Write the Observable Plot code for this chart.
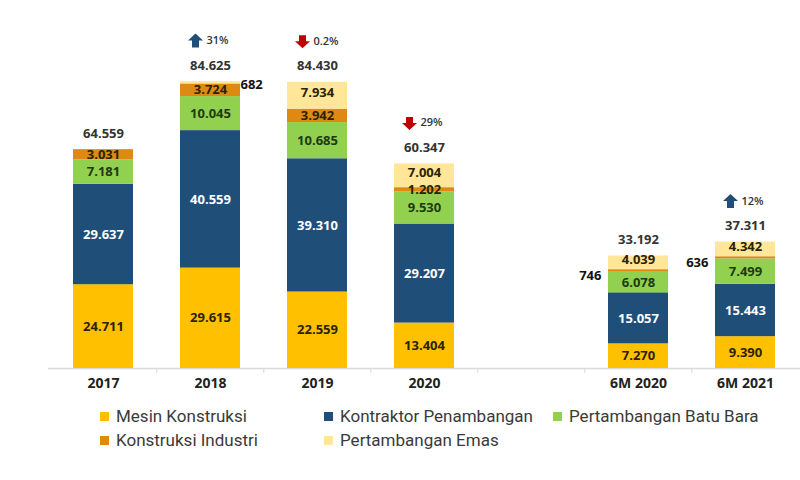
<!DOCTYPE html>
<html><head><meta charset="utf-8">
<script src="https://cdn.jsdelivr.net/npm/d3@7"></script>
<script src="https://cdn.jsdelivr.net/npm/@observablehq/plot@0.6"></script>
<style>
body{margin:0;background:#fff;font-family:"Open Sans",sans-serif;}
#chart{height:400px;}
#legend{display:grid;grid-template-columns:224px 229px auto;padding-left:100px;padding-top:4px;font-family:Roboto,sans-serif;font-size:17px;color:#3a3a3a;}
.item{display:flex;align-items:center;height:24px;white-space:nowrap;}
.sw{width:9px;height:9px;margin-right:7px;flex:none;}
</style></head><body>
<div id="chart"></div><div id="legend"></div>
<script>
const categories = ["2017","2018","2019","2020"," ","6M 2020","6M 2021"];
const seriesNames = ["Mesin Konstruksi","Kontraktor Penambangan","Pertambangan Batu Bara","Konstruksi Industri","Pertambangan Emas"];
const seriesColors = ["#FFC000","#1F4E79","#92D050","#DE8A12","#FFE699"];
const mesinKonstruksi = [24711, 29615, 22559, 13404, null, 7270, 9390];
const kontraktorPenambangan = [29637, 40559, 39310, 29207, null, 15057, 15443];
const pertambanganBatuBara = [7181, 10045, 10685, 9530, null, 6078, 7499];
const konstruksiIndustri = [3031, 3724, 3942, 1202, null, 746, 636];
const pertambanganEmas = [0, 682, 7934, 7004, null, 4039, 4342];
const totals = [64559, 84625, 84430, 60347, null, 33192, 37311];
const changeCategories = ["2018","2019","2020","6M 2021"];
const changeLabels = ["31%","0.2%","29%","12%"];
const changeDirections = ["up","down","down","up"];

const seriesValues = [mesinKonstruksi, kontraktorPenambangan, pertambanganBatuBara, konstruksiIndustri, pertambanganEmas];
const fmt = d3.formatLocale({decimal:",", thousands:".", grouping:[3], currency:["",""]}).format(",d");

const rows = [];
seriesNames.forEach((s, i) => {
  categories.forEach((c, j) => {
    const v = seriesValues[i][j];
    if (v != null) rows.push({cat: c, series: s, value: v});
  });
});
const totalRows = categories.map((c, j) => ({cat: c, total: totals[j]})).filter(d => d.total != null);
const changeRows = changeCategories.map((c, i) => ({cat: c, label: changeLabels[i], dir: changeDirections[i], total: totals[categories.indexOf(c)]}));

const upArrow = {draw(ctx){ ctx.moveTo(0,-7); ctx.lineTo(7.5,0); ctx.lineTo(3.5,0); ctx.lineTo(3.5,7); ctx.lineTo(-3.5,7); ctx.lineTo(-3.5,0); ctx.lineTo(-7.5,0); ctx.closePath(); }};
const downArrow = {draw(ctx){ ctx.moveTo(0,7); ctx.lineTo(7.5,0); ctx.lineTo(3.5,0); ctx.lineTo(3.5,-6); ctx.lineTo(-3.5,-6); ctx.lineTo(-3.5,0); ctx.lineTo(-7.5,0); ctx.closePath(); }};

const big = d => d.value >= 1000;
const labelText = pred => d => (big(d) && pred(d)) ? fmt(d.value) : null;
const st = o => Plot.stackY({x: "cat", y: "value", z: "series", order: seriesNames, ...o});
const S = seriesNames;

const chart = Plot.plot({
  width: 800, height: 400,
  marginTop: 29, marginBottom: 32, marginLeft: 48, marginRight: 0,
  style: {fontFamily: "Open Sans", fontSize: "13px", background: "#fff"},
  x: {domain: categories, paddingInner: 0.44, paddingOuter: 0.22, axis: null},
  y: {domain: [0, 100000], axis: null},
  color: {domain: seriesNames, range: seriesColors},
  marks: [
    Plot.ruleY([0], {stroke: "#d9d9d9", strokeWidth: 1.5}),
    Plot.ruleX(categories.slice(1), {x: d => d, y1: 0, y2: -1500, dx: -53.7, stroke: "#d9d9d9"}),
    Plot.barY(rows, st({fill: "series"})),
    Plot.text(rows, st({text: labelText(d => d.series === S[1]), fill: "#ffffff", fontWeight: "bold"})),
    Plot.text(rows, st({text: labelText(d => d.series === S[2]), fill: "#1f3a12", fontWeight: "bold"})),
    Plot.text(rows, st({text: labelText(d => d.series === S[0] || d.series === S[3]), fill: "#2b2200", fontWeight: "bold"})),
    Plot.text(rows, st({text: labelText(d => d.series === S[4]), fill: "#2b2200", fontWeight: "bold", dy: -3})),
    Plot.text(rows, st({text: d => (!big(d) && d.value > 0 && !d.cat.startsWith("6M")) ? fmt(d.value) : null, fill: "#111", fontWeight: "bold", textAnchor: "start", dx: 30, dy: 2})),
    Plot.text(rows, st({text: d => (!big(d) && d.value > 0 && d.cat.startsWith("6M")) ? fmt(d.value) : null, fill: "#111", fontWeight: "bold", textAnchor: "end", dx: -37, dy: 5})),
    Plot.text(totalRows, {x: "cat", y: "total", text: d => fmt(d.total), dy: -16, fill: "#333", fontWeight: "bold"}),
    Plot.dot(changeRows.filter(d => d.dir === "up"), {x: "cat", y: "total", dx: -15, dy: -41, symbol: upArrow, fill: "#1F4E79", r: 5}),
    Plot.dot(changeRows.filter(d => d.dir === "down"), {x: "cat", y: "total", dx: -15, dy: -41, symbol: downArrow, fill: "#C00000", r: 5}),
    Plot.text(changeRows, {x: "cat", y: "total", text: "label", dx: -4, dy: -41, textAnchor: "start", fontSize: 11, fill: "#333", fontWeight: 600}),
    Plot.axisX({tickSize: 0, tickPadding: 10, fontSize: 14, fontWeight: "bold", fill: "#222", label: null})
  ]
});
document.getElementById("chart").appendChild(chart);

const legend = document.getElementById("legend");
seriesNames.forEach((name, i) => {
  const item = document.createElement("div");
  item.className = "item";
  const sw = document.createElement("span");
  sw.className = "sw";
  sw.style.background = seriesColors[i];
  item.appendChild(sw);
  item.appendChild(document.createTextNode(name));
  legend.appendChild(item);
});
</script>
</body></html>
